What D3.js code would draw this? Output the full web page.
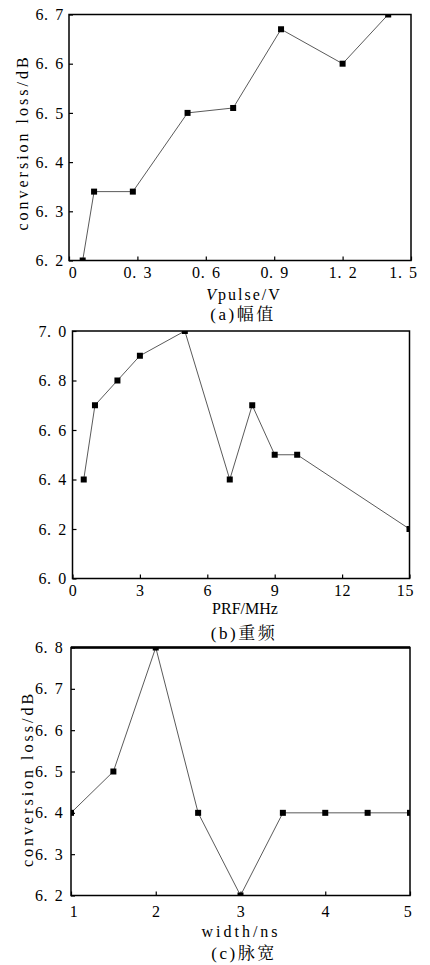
<!DOCTYPE html>
<html>
<head>
<meta charset="utf-8">
<script src="https://cdn.jsdelivr.net/npm/d3@7/dist/d3.min.js"></script>
<style>
  html, body { margin: 0; padding: 0; background: #fff; }
  svg { display: block; }
</style>
</head>
<body>
<svg id="chart" width="430" height="965"></svg>
<script>
// (a) amplitude sweep
const ampX = [0.06, 0.11, 0.28, 0.52, 0.72, 0.93, 1.2, 1.4];
const ampY = [6.2, 6.34, 6.34, 6.5, 6.51, 6.67, 6.6, 6.7];
const ampXTicks = [0, 0.3, 0.6, 0.9, 1.2, 1.5];
const ampYTicks = [6.2, 6.3, 6.4, 6.5, 6.6, 6.7];

// (b) repetition frequency sweep
const prfX = [0.5, 1, 2, 3, 5, 7, 8, 9, 10, 15];
const prfY = [6.4, 6.7, 6.8, 6.9, 7.0, 6.4, 6.7, 6.5, 6.5, 6.2];
const prfXTicks = [0, 3, 6, 9, 12, 15];
const prfYTicks = [6.0, 6.2, 6.4, 6.6, 6.8, 7.0];

// (c) pulse width sweep
const widX = [1, 1.5, 2, 2.5, 3, 3.5, 4, 4.5, 5];
const widY = [6.4, 6.5, 6.8, 6.4, 6.2, 6.4, 6.4, 6.4, 6.4];
const widXTicks = [1, 2, 3, 4, 5];
const widYTicks = [6.2, 6.3, 6.4, 6.5, 6.6, 6.7, 6.8];

const svg = d3.select("#chart");
const SERIF = "'Liberation Serif', 'DejaVu Serif', serif";
const CAPTION = "'Liberation Serif', 'Noto Serif CJK SC', 'Noto Sans CJK SC', serif";

// Writes a tick label, widening the gap after the decimal point.
function decimalLabel(sel, fmt) {
  sel.each(function (d) {
    const s = fmt(d);
    const t = d3.select(this).text(null);
    const i = s.indexOf(".");
    if (i < 0) { t.text(s); return; }
    t.append("tspan").text(s.slice(0, i + 1));
    t.append("tspan").attr("dx", 6.5).text(s.slice(i + 1));
  });
}

function panel(cfg, idx) {
  const x = d3.scaleLinear().domain(cfg.xDomain).range([cfg.left, cfg.right]);
  const y = d3.scaleLinear().domain(cfg.yDomain).range([cfg.bottom, cfg.top]);
  const clipId = "clip" + idx;

  svg.append("clipPath").attr("id", clipId)
    .append("rect")
    .attr("x", cfg.left).attr("y", cfg.top)
    .attr("width", cfg.right - cfg.left).attr("height", cfg.bottom - cfg.top);

  // axes with inward ticks
  const gx = svg.append("g")
    .attr("transform", `translate(0,${cfg.bottom})`)
    .call(d3.axisBottom(x).tickValues(cfg.xTicks).tickSizeInner(-4).tickSizeOuter(0).tickPadding(cfg.xPad));
  const gy = svg.append("g")
    .attr("transform", `translate(${cfg.left},0)`)
    .call(d3.axisLeft(y).tickValues(cfg.yTicks).tickSizeInner(-4).tickSizeOuter(0).tickPadding(cfg.yPad));

  [gx, gy].forEach(g => {
    g.select(".domain").remove();
    g.selectAll(".tick line").attr("stroke", "#000").attr("stroke-width", 1.2);
    g.selectAll(".tick text")
      .attr("fill", "#000")
      .style("font-family", SERIF)
      .style("font-size", "16px")
      .style("letter-spacing", "0.7px");
  });
  decimalLabel(gx.selectAll(".tick text"), cfg.xFmt);
  decimalLabel(gy.selectAll(".tick text"), d3.format(".1f"));
  const xt = gx.selectAll(".tick text").nodes();
  d3.select(xt[0]).attr("dx", cfg.firstDx);
  d3.select(xt[xt.length - 1]).attr("dx", cfg.lastDx);

  // data line and square markers
  const pts = cfg.xs.map((v, i) => [v, cfg.ys[i]]);
  const plot = svg.append("g").attr("clip-path", `url(#${clipId})`);
  plot.append("path")
    .datum(pts)
    .attr("fill", "none")
    .attr("stroke", "#5a5a5a")
    .attr("stroke-width", 1)
    .attr("d", d3.line().x(d => x(d[0])).y(d => y(d[1])));
  plot.selectAll("rect.mk")
    .data(pts)
    .join("rect")
    .attr("class", "mk")
    .attr("x", d => x(d[0]) - 3)
    .attr("y", d => y(d[1]) - 3)
    .attr("width", 6).attr("height", 6)
    .attr("fill", "#000");

  // frame
  svg.append("rect")
    .attr("x", cfg.left).attr("y", cfg.top)
    .attr("width", cfg.right - cfg.left).attr("height", cfg.bottom - cfg.top)
    .attr("fill", "none").attr("stroke", "#000").attr("stroke-width", 1.5);
  if (cfg.heavyTop) {
    svg.append("line")
      .attr("x1", cfg.left).attr("x2", cfg.right)
      .attr("y1", cfg.top).attr("y2", cfg.top)
      .attr("stroke", "#000").attr("stroke-width", 2.6);
  }

  // x title
  const xt2 = svg.append("text")
    .attr("x", cfg.xTitleX).attr("y", cfg.xTitleY)
    .attr("text-anchor", "middle")
    .style("font-family", SERIF).style("font-size", "16px")
    .style("letter-spacing", cfg.xTitleSpacing + "px");
  cfg.xTitle.forEach(p => xt2.append("tspan").style("font-style", p.italic ? "italic" : "normal").text(p.t));

  // y title
  if (cfg.yTitle) {
    svg.append("text")
      .attr("transform", `translate(${cfg.yTitleX},${cfg.yTitleY}) rotate(-90)`)
      .attr("text-anchor", "middle")
      .style("font-family", SERIF).style("font-size", "16px")
      .style("letter-spacing", "3px")
      .text(cfg.yTitle);
  }

  // caption
  svg.append("text")
    .attr("x", cfg.capX).attr("y", cfg.capY)
    .attr("text-anchor", "middle")
    .style("font-family", CAPTION).style("font-size", "17px")
    .style("letter-spacing", "2.5px")
    .text(cfg.caption);
}

panel({
  xs: ampX, ys: ampY, xDomain: [0, 1.5], yDomain: [6.2, 6.7],
  xTicks: ampXTicks, yTicks: ampYTicks, xFmt: d3.format(".1~f"),
  left: 69, right: 411, top: 14.5, bottom: 260.5,
  xPad: 6, yPad: 5, firstDx: 3.5, lastDx: -8,
  xTitle: [{ t: "V", italic: true }, { t: "pulse/V" }], xTitleSpacing: 2, xTitleX: 244, xTitleY: 300,
  yTitle: "conversion loss/dB", yTitleX: 28, yTitleY: 142.5,
  caption: "(a)幅值", capX: 243, capY: 320
}, 0);

panel({
  xs: prfX, ys: prfY, xDomain: [0, 15], yDomain: [6.0, 7.0],
  xTicks: prfXTicks, yTicks: prfYTicks, xFmt: d3.format("d"),
  left: 72.5, right: 409.5, top: 331, bottom: 578.5,
  xPad: 6, yPad: 5.5, firstDx: 0, lastDx: -4.5,
  xTitle: [{ t: "PRF/MHz" }], xTitleSpacing: 0, xTitleX: 245, xTitleY: 614,
  yTitle: null,
  caption: "(b)重频", capX: 244, capY: 639
}, 1);

panel({
  xs: widX, ys: widY, xDomain: [1, 5], yDomain: [6.2, 6.8],
  xTicks: widXTicks, yTicks: widYTicks, xFmt: d3.format("d"),
  left: 71, right: 410, top: 647.5, bottom: 895.5,
  xPad: 10, yPad: 7.5, firstDx: 2.5, lastDx: -2.5, heavyTop: true,
  xTitle: [{ t: "width/ns" }], xTitleSpacing: 3, xTitleX: 241, xTitleY: 936.5,
  yTitle: "conversion loss/dB", yTitleX: 33, yTitleY: 779,
  caption: "(c)脉宽", capX: 244, capY: 959
}, 2);
</script>
</body>
</html>
